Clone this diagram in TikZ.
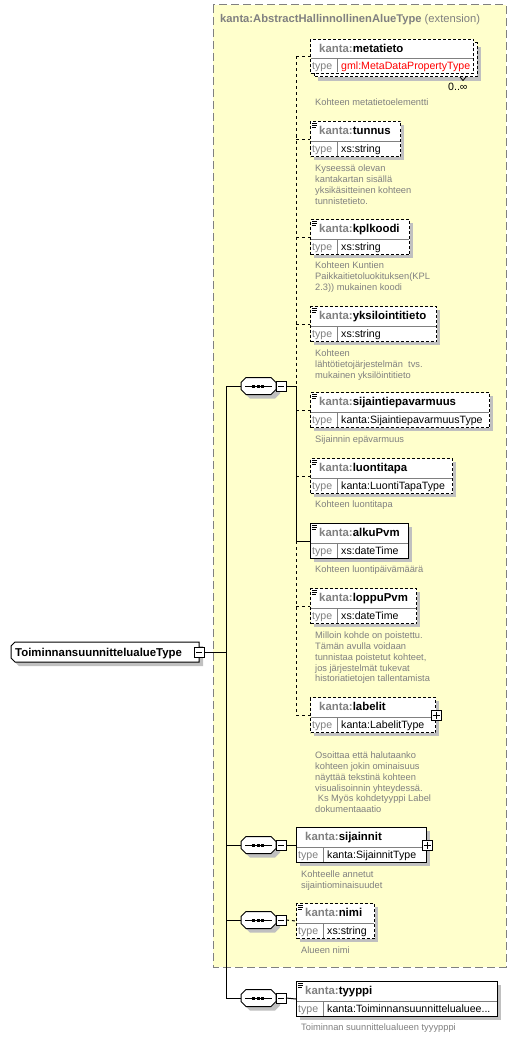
\documentclass[tikz,border=0pt]{standalone}
\usepackage{fontspec}
\setmainfont{Liberation Sans}
\definecolor{yel}{RGB}{255,255,204}
\definecolor{kgray}{RGB}{128,128,128}
\definecolor{shad}{RGB}{192,192,192}
\definecolor{desc}{RGB}{128,128,128}
\tikzset{
  ln/.style={line width=1pt, draw=black},
  dsh/.style={dash pattern=on 3pt off 2pt},
  cdsh/.style={dash pattern=on 3pt off 3pt},
  hdr/.style={font=\fontsize{11.4}{13}\selectfont\bfseries, inner sep=0pt, anchor=base west},
  typ/.style={font=\fontsize{10.6}{13}\selectfont, inner sep=0pt, anchor=base west},
  dsc/.style={font=\fontsize{9.3}{10.8}\selectfont, text=desc, inner sep=0pt, anchor=north west, align=left},
  minbox/.style={draw=black, line width=1pt, fill=white, minimum size=10pt, inner sep=0pt},
}
% element box: #1 name, #2 left, #3 top, #4 right, #5 element, #6 type, #7 border style
\newcommand\elbox[7]{%
  \fill[shad] (#2+4,#3+4) rectangle (#4+4,#3+39);
  \node[ln, #7, fill=white, inner sep=0pt, anchor=north west,
        minimum width={(#4-#2)*1pt}, minimum height=35pt] (#1) at (#2,#3) {};
  \draw[kgray, line width=1pt] (#2+0.5,#3+20) -- (#4-0.5,#3+20);
  \draw[kgray, line width=1pt] (#2+27.5,#3+20) -- (#2+27.5,#3+34.5);
  \node[hdr] (#1-h) at (#2+9,#3+13.5) {\textcolor{kgray}{kanta:}#5};
  \node[typ, text=kgray] (#1-tl) at (#2+2,#3+31) {type};
  \node[typ] (#1-tv) at (#2+31,#3+31) {#6};
}
\newcommand\docicon[2]{%
  \draw[black, line width=0.8pt] (#1+2,#2+2.5) -- (#1+7,#2+2.5);
  \draw[black, line width=0.8pt] (#1+2,#2+4.5) -- (#1+7,#2+4.5);
  \draw[black, line width=0.8pt] (#1+2,#2+6.5) -- (#1+6,#2+6.5);
}
\newcommand\plusat[2]{%
  \node[minbox] (#2) at (#1) {};
  \draw[black, line width=1pt] (#2.center) +(-3.5,0) -- +(3.5,0);
  \draw[black, line width=1pt] (#2.center) +(0,-3.5) -- +(0,3.5);
}
% sequence compositor: #1 name, #2 centre y
\newcommand\seqsym[2]{%
  \begin{scope}[shift={(0,#2)}]
    \fill[shad] (245,0.5) -- (250,-4.5) -- (275,-4.5) -- (280,0.5) -- (280,7.5) -- (275,12.5) -- (250,12.5) -- (245,7.5) -- cycle;
    \draw[ln, fill=white] (241,-3.5) -- (246,-8.5) -- (271,-8.5) -- (276,-3.5) -- (276,3.5) -- (271,8.5) -- (246,8.5) -- (241,3.5) -- cycle;
    \draw[ln] (245,0) -- (272,0);
    \fill (252,-1.5) rectangle +(3,3);
    \fill (256.5,-1.5) rectangle +(3,3);
    \fill (261,-1.5) rectangle +(3,3);
    \node[minbox] (#1-m) at (281,0) {};
    \draw[ln] (278,0) -- (284,0);
    \coordinate (#1-in) at (241,0);
    \coordinate (#1-out) at (286,0);
  \end{scope}}
\begin{document}
\begin{tikzpicture}[x=1pt,y=-1pt]
\useasboundingbox (0,0) rectangle (532,1038);
\fill[white] (0,0) rectangle (532,1038);
% extension area
\draw[kgray, line width=1pt, dash pattern=on 8pt off 4pt, fill=yel] (213,5) rectangle (506,967);
\node[anchor=base west, inner sep=0pt, text=kgray, font=\fontsize{11.2}{13}\selectfont] (title) at (220,23)
  {\textbf{kanta:AbstractHallinnollinenAlueType} (extension)};

\coordinate (spine) at (296,0);
\coordinate (lspine) at (226,0);

% ---------- main type node
\fill[shad] (19,646) -- (203,646) -- (203,666) -- (19,666) -- (15,662) -- (15,650) -- cycle;
\draw[ln, fill=white] (15,642) -- (199,642) -- (199,662) -- (15,662) -- (11,658) -- (11,646) -- cycle;
\node[hdr] (main) at (15,656) {ToiminnansuunnittelualueType};
\node[minbox] (main-m) at (199,652) {};
\draw[ln] (196,652) -- (202,652);

% ---------- sequences
\seqsym{sq1}{386}
\seqsym{sq2}{845}
\seqsym{sq3}{920}
\seqsym{sq4}{998}

% ---------- metatieto (stacked, 0..inf)
\fill[shad] (318,47) rectangle (481,81);
\draw[ln, dsh, fill=white] (314,43) rectangle (477,77);
\node[ln, dsh, fill=white, inner sep=0pt, anchor=north west, minimum width=163pt, minimum height=34pt] (meta) at (310,39) {};
\draw[kgray, line width=1pt] (310.5,59) -- (472.5,59);
\draw[kgray, line width=1pt] (337.5,59) -- (337.5,72.5);
\node[hdr] (meta-h) at (319,52.5) {\textcolor{kgray}{kanta:}metatieto};
\node[typ, text=kgray] (meta-tl) at (312,69.5) {type};
\node[typ, text=red] (meta-tv) at (341,69.5) {gml:MetaDataPropertyType};
\draw[black, line width=0.8pt] (460,77) -- (463,80.5) -- (466,77);
\node[typ] (meta-card) at (448,90.5) {0..∞};
\node[dsc] (meta-d) at (315,98.5) {\rule{0pt}{7pt}Kohteen metatietoelementti};

% ---------- upper elements
\elbox{tunnus}{310}{121}{400}{tunnus}{xs:string}{dsh}
\docicon{310}{121}
\node[dsc] (tunnus-d) at (315,164.5) {\rule{0pt}{7pt}Kyseessä olevan\\kantakartan sisällä\\yksikäsitteinen kohteen\\tunnistetieto.};

\elbox{kpl}{310}{219}{409}{kplkoodi}{xs:string}{dsh}
\docicon{310}{219}
\node[dsc] (kpl-d) at (315,261.5) {\rule{0pt}{7pt}Kohteen Kuntien\\Paikkaitietoluokituksen(KPL\\2.3)) mukainen koodi};

\elbox{yks}{310}{306}{436}{yksilointitieto}{xs:string}{dsh}
\docicon{310}{306}
\node[dsc] (yks-d) at (315,349.5) {\rule{0pt}{7pt}Kohteen\\lähtötietojärjestelmän\ \ tvs.\\mukainen yksilöintitieto};

\elbox{sep}{310}{392}{489}{sijaintiepavarmuus}{kanta:SijaintiepavarmuusType}{dsh}
\docicon{310}{392}
\node[dsc] (sep-d) at (315,435.5) {\rule{0pt}{7pt}Sijainnin epävarmuus};

\elbox{lt}{310}{458}{452}{luontitapa}{kanta:LuontiTapaType}{dsh}
\docicon{310}{458}
\node[dsc] (lt-d) at (315,500.5) {\rule{0pt}{7pt}Kohteen luontitapa};

\elbox{alku}{310}{523}{408}{alkuPvm}{xs:dateTime}{solid}
\docicon{310}{523}
\node[dsc] (alku-d) at (315,565.5) {\rule{0pt}{7pt}Kohteen luontipäivämäärä};

\elbox{loppu}{310}{588}{416}{loppuPvm}{xs:dateTime}{dsh}
\docicon{310}{588}
\node[dsc] (loppu-d) at (315,631.5) {\rule{0pt}{7pt}Milloin kohde on poistettu.\\Tämän avulla voidaan\\tunnistaa poistetut kohteet,\\jos järjestelmät tukevat\\historiatietojen tallentamista};

\elbox{lab}{310}{697}{435}{labelit}{kanta:LabelitType}{dsh}
\plusat{lab.east}{lab-p}
\node[dsc] (lab-d) at (315,751.5) {\rule{0pt}{7pt}Osoittaa että halutaanko\\kohteen jokin ominaisuus\\näyttää tekstinä kohteen\\visualisoinnin yhteydessä.\\\hspace*{2.6pt}Ks Myös kohdetyyppi Label\\dokumentaaatio};

% ---------- lower elements
\elbox{sij}{296}{827}{426}{sijainnit}{kanta:SijainnitType}{solid}
\plusat{sij.east}{sij-p}
\node[dsc] (sij-d) at (301,870.5) {\rule{0pt}{7pt}Kohteelle annetut\\sijaintiominaisuudet};

\elbox{nimi}{296}{903}{374}{nimi}{xs:string}{dsh}
\docicon{296}{903}
\node[dsc] (nimi-d) at (301,946.5) {\rule{0pt}{7pt}Alueen nimi};

\elbox{tyy}{296}{981}{497}{tyyppi}{kanta:Toiminnansuunnittelualuee...}{solid}
\docicon{296}{981}
\node[dsc] (tyy-d) at (301,1023.5) {\rule{0pt}{7pt}Toiminnan suunnittelualueen tyyypppi};

% ---------- connectors
\draw[ln] (main-m.east) -- (main-m.east -| lspine);
\draw[ln] (sq1-in -| lspine) -- (sq4-in -| lspine);
\draw[ln] (sq1-in -| lspine) -- (sq1-in);
\draw[ln] (sq2-in -| lspine) -- (sq2-in);
\draw[ln] (sq3-in -| lspine) -- (sq3-in);
\draw[ln] (sq4-in -| lspine) -- (sq4-in);
\draw[ln] (sq1-out) -- (sq1-out -| spine);
\draw[ln, cdsh] (meta.west -| spine) -- (sq1-out -| spine);
\draw[ln] (sq1-out -| spine) -- (alku.west -| spine);
\draw[ln, cdsh] (alku.west -| spine) -- (lab.west -| spine);
\draw[ln, cdsh] (meta.west -| spine) -- (meta.west);
\draw[ln, cdsh] (tunnus.west -| spine) -- (tunnus.west);
\draw[ln, cdsh] (kpl.west -| spine) -- (kpl.west);
\draw[ln, cdsh] (yks.west -| spine) -- (yks.west);
\draw[ln, cdsh] (sep.west -| spine) -- (sep.west);
\draw[ln, cdsh] (lt.west -| spine) -- (lt.west);
\draw[ln] (alku.west -| spine) -- (alku.west);
\draw[ln, cdsh] (loppu.west -| spine) -- (loppu.west);
\draw[ln, cdsh] (lab.west -| spine) -- (lab.west);
\draw[ln] (sq2-out) -- (sij.west);
\draw[ln, cdsh] (sq3-out) -- (nimi.west);
\draw[ln] (sq4-out) -- (tyy.west);
\end{tikzpicture}
\end{document}
